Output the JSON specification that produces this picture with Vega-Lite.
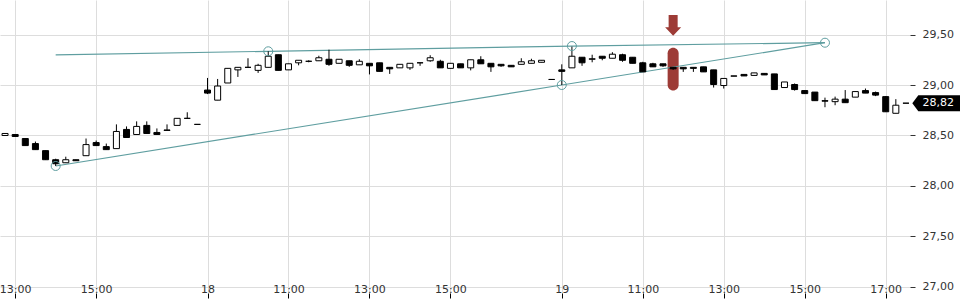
{
  "$schema": "https://vega.github.io/schema/vega-lite/v6.json",
  "autosize": {"type": "none"},
  "padding": {"left": 0, "top": 0, "right": 50, "bottom": 7},
  "width": 910,
  "height": 293,
  "background": "#ffffff",
  "config": {
    "view": {"stroke": null},
    "locale": {"number": {"decimal": ",", "thousands": ".", "grouping": [3], "currency": ["", " €"]}},
    "axis": {"labelFont": "DejaVu Sans", "labelFontSize": 11, "labelColor": "#333333", "gridColor": "#dddddd", "gridWidth": 1, "domain": false, "title": null}
  },
  "datasets": {
    "candles": [
      {"i":0,"o":28.50,"h":28.52,"l":28.50,"c":28.52},
      {"i":1,"o":28.51,"h":28.51,"l":28.49,"c":28.49},
      {"i":2,"o":28.47,"h":28.47,"l":28.40,"c":28.40},
      {"i":3,"o":28.42,"h":28.44,"l":28.36,"c":28.36},
      {"i":4,"o":28.35,"h":28.35,"l":28.26,"c":28.26},
      {"i":5,"o":28.26,"h":28.27,"l":28.198,"c":28.22},
      {"i":6,"o":28.23,"h":28.29,"l":28.23,"c":28.26},
      {"i":7,"o":28.26,"h":28.26,"l":28.25,"c":28.25},
      {"i":8,"o":28.30,"h":28.47,"l":28.30,"c":28.41},
      {"i":9,"o":28.43,"h":28.45,"l":28.40,"c":28.40},
      {"i":10,"o":28.39,"h":28.42,"l":28.36,"c":28.36},
      {"i":11,"o":28.37,"h":28.61,"l":28.37,"c":28.54},
      {"i":12,"o":28.56,"h":28.59,"l":28.48,"c":28.48},
      {"i":13,"o":28.51,"h":28.64,"l":28.51,"c":28.59},
      {"i":14,"o":28.60,"h":28.64,"l":28.52,"c":28.52},
      {"i":15,"o":28.53,"h":28.57,"l":28.51,"c":28.51},
      {"i":16,"o":28.55,"h":28.61,"l":28.55,"c":28.555},
      {"i":17,"o":28.60,"h":28.67,"l":28.60,"c":28.67},
      {"i":18,"o":28.67,"h":28.73,"l":28.67,"c":28.67},
      {"i":19,"o":28.61,"h":28.61,"l":28.61,"c":28.61},
      {"i":20,"o":28.95,"h":29.07,"l":28.91,"c":28.92},
      {"i":21,"o":28.85,"h":29.06,"l":28.85,"c":28.99},
      {"i":22,"o":29.02,"h":29.165,"l":29.02,"c":29.165},
      {"i":23,"o":29.15,"h":29.175,"l":29.08,"c":29.175},
      {"i":24,"o":29.175,"h":29.265,"l":29.175,"c":29.175},
      {"i":25,"o":29.145,"h":29.21,"l":29.12,"c":29.195},
      {"i":26,"o":29.175,"h":29.334,"l":29.175,"c":29.285},
      {"i":27,"o":29.30,"h":29.30,"l":29.145,"c":29.145},
      {"i":28,"o":29.15,"h":29.21,"l":29.15,"c":29.21},
      {"i":29,"o":29.22,"h":29.245,"l":29.195,"c":29.245},
      {"i":30,"o":29.235,"h":29.245,"l":29.225,"c":29.235},
      {"i":31,"o":29.24,"h":29.29,"l":29.24,"c":29.27},
      {"i":32,"o":29.255,"h":29.35,"l":29.19,"c":29.205},
      {"i":33,"o":29.215,"h":29.255,"l":29.215,"c":29.255},
      {"i":34,"o":29.24,"h":29.24,"l":29.18,"c":29.195},
      {"i":35,"o":29.20,"h":29.255,"l":29.20,"c":29.235},
      {"i":36,"o":29.215,"h":29.215,"l":29.105,"c":29.19},
      {"i":37,"o":29.22,"h":29.22,"l":29.135,"c":29.135},
      {"i":38,"o":29.175,"h":29.175,"l":29.11,"c":29.16},
      {"i":39,"o":29.17,"h":29.205,"l":29.17,"c":29.205},
      {"i":40,"o":29.17,"h":29.215,"l":29.15,"c":29.215},
      {"i":41,"o":29.22,"h":29.22,"l":29.19,"c":29.22},
      {"i":42,"o":29.24,"h":29.295,"l":29.23,"c":29.27},
      {"i":43,"o":29.235,"h":29.25,"l":29.17,"c":29.17},
      {"i":44,"o":29.165,"h":29.215,"l":29.165,"c":29.215},
      {"i":45,"o":29.21,"h":29.21,"l":29.17,"c":29.17},
      {"i":46,"o":29.17,"h":29.25,"l":29.145,"c":29.25},
      {"i":47,"o":29.25,"h":29.285,"l":29.21,"c":29.21},
      {"i":48,"o":29.215,"h":29.215,"l":29.13,"c":29.18},
      {"i":49,"o":29.205,"h":29.205,"l":29.18,"c":29.19},
      {"i":50,"o":29.195,"h":29.195,"l":29.18,"c":29.18},
      {"i":51,"o":29.205,"h":29.265,"l":29.205,"c":29.23},
      {"i":52,"o":29.215,"h":29.26,"l":29.215,"c":29.24},
      {"i":53,"o":29.225,"h":29.245,"l":29.225,"c":29.245},
      {"i":54,"o":29.055,"h":29.055,"l":29.055,"c":29.055},
      {"i":55,"o":29.15,"h":29.205,"l":29.00,"c":29.135},
      {"i":56,"o":29.17,"h":29.38,"l":29.17,"c":29.285},
      {"i":57,"o":29.275,"h":29.275,"l":29.19,"c":29.22},
      {"i":58,"o":29.255,"h":29.30,"l":29.225,"c":29.26},
      {"i":59,"o":29.285,"h":29.285,"l":29.245,"c":29.265},
      {"i":60,"o":29.265,"h":29.325,"l":29.265,"c":29.305},
      {"i":61,"o":29.30,"h":29.31,"l":29.23,"c":29.245},
      {"i":62,"o":29.275,"h":29.275,"l":29.215,"c":29.215},
      {"i":63,"o":29.22,"h":29.23,"l":29.13,"c":29.13},
      {"i":64,"o":29.21,"h":29.22,"l":29.18,"c":29.18},
      {"i":65,"o":29.21,"h":29.21,"l":29.18,"c":29.19},
      {"i":66,"o":29.175,"h":29.175,"l":29.15,"c":29.16},
      {"i":67,"o":29.175,"h":29.175,"l":29.13,"c":29.16},
      {"i":68,"o":29.175,"h":29.175,"l":29.13,"c":29.165},
      {"i":69,"o":29.18,"h":29.18,"l":29.13,"c":29.13},
      {"i":70,"o":29.15,"h":29.15,"l":28.975,"c":29.005},
      {"i":71,"o":28.995,"h":29.065,"l":28.965,"c":29.065},
      {"i":72,"o":29.09,"h":29.09,"l":29.088,"c":29.088},
      {"i":73,"o":29.105,"h":29.105,"l":29.09,"c":29.09},
      {"i":74,"o":29.095,"h":29.12,"l":29.095,"c":29.12},
      {"i":75,"o":29.115,"h":29.115,"l":29.10,"c":29.10},
      {"i":76,"o":29.11,"h":29.11,"l":28.955,"c":28.955},
      {"i":77,"o":28.975,"h":29.03,"l":28.975,"c":29.03},
      {"i":78,"o":29.005,"h":29.015,"l":28.945,"c":28.955},
      {"i":79,"o":28.945,"h":28.945,"l":28.915,"c":28.915},
      {"i":80,"o":28.93,"h":28.93,"l":28.845,"c":28.845},
      {"i":81,"o":28.845,"h":28.875,"l":28.78,"c":28.84},
      {"i":82,"o":28.835,"h":28.885,"l":28.80,"c":28.86},
      {"i":83,"o":28.86,"h":28.95,"l":28.825,"c":28.825},
      {"i":84,"o":28.88,"h":28.935,"l":28.88,"c":28.935},
      {"i":85,"o":28.945,"h":28.965,"l":28.92,"c":28.92},
      {"i":86,"o":28.925,"h":28.935,"l":28.89,"c":28.90},
      {"i":87,"o":28.885,"h":28.89,"l":28.735,"c":28.735},
      {"i":88,"o":28.72,"h":28.86,"l":28.72,"c":28.80},
      {"i":89,"o":28.82,"h":28.82,"l":28.82,"c":28.82}
    ],
    "trend": [
      {"line":"A","i":5,"p":28.198,"pt":true},
      {"line":"A","i":55,"p":29.0,"pt":true},
      {"line":"A","i":81,"p":29.419,"pt":true},
      {"line":"B","i":5,"p":29.298,"pt":false},
      {"line":"B","i":26,"p":29.334,"pt":true},
      {"line":"B","i":56,"p":29.386,"pt":true},
      {"line":"B","i":81,"p":29.419,"pt":false}
    ],
    "marker": [
      {"i":66,"top":29.37,"bottom":28.945,"arrow":29.589}
    ],
    "last": [
      {"i":92,"p":28.82}
    ]
  },
  "layer": [
    {
      "data": {"name": "marker"},
      "mark": {"type": "bar", "width": 11, "cornerRadius": 5.5, "color": "#9d3b36"},
      "encoding": {
        "x": {"field": "i", "type": "quantitative",
          "scale": {"domain": [-0.5, 89.4], "nice": false, "zero": false, "padding": 0},
          "axis": {
            "values": [1,9,20,28,36,44,55,63,71,79,87],
            "labelExpr": "['13:00','15:00','18','11:00','13:00','15:00','19','11:00','13:00','15:00','17:00'][indexof([1,9,20,28,36,44,55,63,71,79,87], datum.value)]",
            "tickSize": 5, "tickColor": "#000000", "labelPadding": -6, "labelBaseline": "alphabetic",
            "labelFlush": false, "labelOverlap": false, "grid": true, "domain": false
          }
        },
        "y": {"field": "top", "type": "quantitative",
          "scale": {"domain": [26.94, 29.842], "nice": false, "zero": false, "padding": 0},
          "axis": {
            "orient": "right", "values": [27, 27.5, 28, 28.5, 29, 29.5], "format": ".2f",
            "tickSize": 5, "tickColor": "#333333", "labelPadding": 7, "grid": true, "domain": false
          }
        },
        "y2": {"field": "bottom"}
      }
    },
    {
      "data": {"name": "marker"},
      "mark": {"type": "point", "shape": "M-0.41,-0.95 L0.41,-0.95 L0.41,0.16 L0.73,0.16 L0,0.93 L-0.73,0.16 L-0.41,0.16 Z", "size": 484, "filled": true, "opacity": 1, "color": "#9d3b36"},
      "encoding": {
        "x": {"field": "i", "type": "quantitative"},
        "y": {"field": "arrow", "type": "quantitative"}
      }
    },
    {
      "data": {"name": "trend"},
      "mark": {"type": "line", "color": "#5f9ea0", "strokeWidth": 1.2},
      "encoding": {
        "x": {"field": "i", "type": "quantitative"},
        "y": {"field": "p", "type": "quantitative"},
        "detail": {"field": "line"}
      }
    },
    {
      "data": {"name": "candles"},
      "mark": {"type": "rule", "color": "#000000", "strokeWidth": 1},
      "encoding": {
        "x": {"field": "i", "type": "quantitative"},
        "y": {"field": "l", "type": "quantitative"},
        "y2": {"field": "h"}
      }
    },
    {
      "data": {"name": "candles"},
      "mark": {"type": "bar", "width": 6, "stroke": "#000000", "strokeWidth": 1},
      "encoding": {
        "x": {"field": "i", "type": "quantitative"},
        "y": {"field": "o", "type": "quantitative"},
        "y2": {"field": "c"},
        "fill": {"condition": {"test": "datum.c < datum.o", "value": "#000000"}, "value": "#ffffff"}
      }
    },
    {
      "data": {"name": "trend"},
      "transform": [{"filter": "datum.pt"}],
      "mark": {"type": "point", "shape": "circle", "size": 81, "filled": false, "color": "#5f9ea0", "strokeWidth": 1, "opacity": 1},
      "encoding": {
        "x": {"field": "i", "type": "quantitative"},
        "y": {"field": "p", "type": "quantitative"}
      }
    },
    {
      "data": {"name": "last"},
      "mark": {"type": "point", "shape": "M-1,0 L-0.75,-0.333 L1,-0.333 L1,0.333 L-0.75,0.333 Z", "size": 2304, "filled": true, "opacity": 1, "color": "#000000"},
      "encoding": {
        "x": {"field": "i", "type": "quantitative"},
        "y": {"field": "p", "type": "quantitative"}
      }
    },
    {
      "data": {"name": "last"},
      "mark": {"type": "text", "color": "#ffffff", "font": "DejaVu Sans", "fontSize": 11, "align": "center", "baseline": "middle", "dx": 2},
      "encoding": {
        "x": {"field": "i", "type": "quantitative"},
        "y": {"field": "p", "type": "quantitative"},
        "text": {"field": "p", "type": "quantitative", "format": ".2f"}
      }
    }
  ]
}
